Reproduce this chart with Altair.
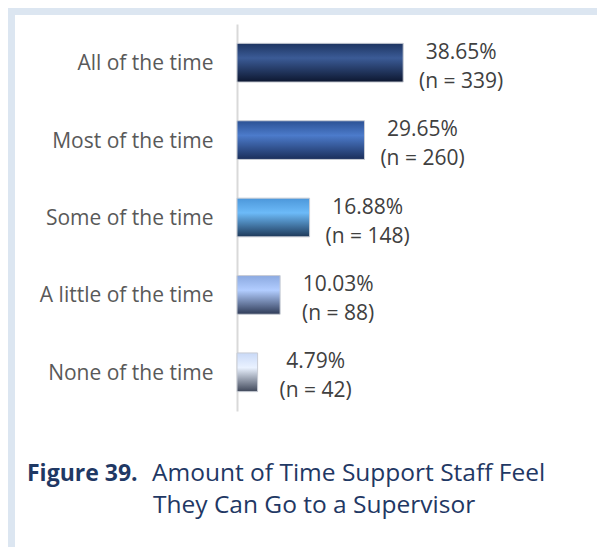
import altair as alt
import pandas as pd

categories = ["All of the time", "Most of the time", "Some of the time",
              "A little of the time", "None of the time"]
percents = [38.65, 29.65, 16.88, 10.03, 4.79]
counts = [339, 260, 148, 88, 42]

# vertical gradient stops (top, highlight, bottom) for each bar
grad_top = ["#1D3461", "#2B5194", "#4C97DA", "#8BA9E0", "#C9D9F7"]
grad_mid = ["#3B5B96", "#4C7BCB", "#6CBAF8", "#B2CDFF", "#EAF2FF"]
grad_bot = ["#0D1730", "#1A2E5A", "#1E3959", "#2F3B57", "#3F4759"]

df = pd.DataFrame({
    "cat": categories,
    "pct": percents,
    "n": counts,
})
df["label"] = [f"{p:.2f}%\n(n = {n})" for p, n in zip(percents, counts)]

W, H = 215, 387
PL, PT = 229, 16
CW, CH = 589, 539

y_enc = alt.Y("cat:N", sort=categories,
              scale=alt.Scale(paddingInner=0.5, paddingOuter=0.25),
              axis=alt.Axis(title=None, ticks=False, grid=False,
                            domainColor="#D9D9D9", domainWidth=2,
                            labelFontSize=21, labelColor="#595959",
                            labelFont="Open Sans", labelPadding=24,
                            labelOffset=1.5))
x_enc = alt.X("pct:Q", scale=alt.Scale(domain=[0, 50]), axis=None)

base = alt.Chart(df)

bars = []
for i, c in enumerate(categories):
    g = alt.Gradient(
        gradient="linear", x1=0, x2=0, y1=0, y2=1,
        stops=[alt.GradientStop(offset=0, color=grad_top[i]),
               alt.GradientStop(offset=0.38, color=grad_mid[i]),
               alt.GradientStop(offset=1, color=grad_bot[i])])
    bars.append(
        base.transform_filter(alt.datum.cat == c)
        .mark_bar(color=g, stroke="#C8CCD4", strokeWidth=1)
        .encode(x=x_enc, y=y_enc)
    )

labels = base.mark_text(align="center", baseline="middle", dx=58, dy=-10,
                        fontSize=21, font="Open Sans", color="#404040",
                        lineBreak="\n", lineHeight=29).encode(
    x=x_enc, y=y_enc, text="label:N")

frame_color = "#DCE6F1"
top_band = alt.Chart(pd.DataFrame({"a": [0]})).mark_rect(color=frame_color).encode(
    x=alt.value(-PL - 1), x2=alt.value(CW - PL),
    y=alt.value(-PT - 1), y2=alt.value(-PT + 7))
left_band = alt.Chart(pd.DataFrame({"a": [0]})).mark_rect(color=frame_color).encode(
    x=alt.value(-PL - 1), x2=alt.value(-PL + 7),
    y=alt.value(-PT - 1), y2=alt.value(CH - PT))

cap_color = "#1F3864"
fig_lbl = alt.Chart(pd.DataFrame({"t": ["Figure 39."]})).mark_text(
    align="left", baseline="alphabetic", fontSize=23, font="Open Sans",
    fontWeight="bold", color=cap_color).encode(
    x=alt.value(27 - 8 - PL), y=alt.value(481 - 8 - PT), text="t:N")
cap1 = alt.Chart(pd.DataFrame({"t": ["Amount of Time Support Staff Feel"]})).mark_text(
    align="left", baseline="alphabetic", fontSize=24.5, font="Open Sans",
    color=cap_color).encode(
    x=alt.value(152 - 8 - PL), y=alt.value(481 - 8 - PT), text="t:N")
cap2 = alt.Chart(pd.DataFrame({"t": ["They Can Go to a Supervisor"]})).mark_text(
    align="left", baseline="alphabetic", fontSize=24.5, font="Open Sans",
    color=cap_color).encode(
    x=alt.value(153 - 8 - PL), y=alt.value(513 - 8 - PT), text="t:N")

chart = alt.layer(top_band, left_band, *bars, labels, fig_lbl, cap1, cap2).properties(
    width=W, height=H,
    padding={"left": PL, "top": PT, "right": CW - PL - W, "bottom": CH - PT - H},
    autosize=alt.AutoSizeParams(type="none"),
    background="white",
).configure_view(stroke=None)

chart.save("out.html", embed_options={"renderer": "svg", "actions": False})
